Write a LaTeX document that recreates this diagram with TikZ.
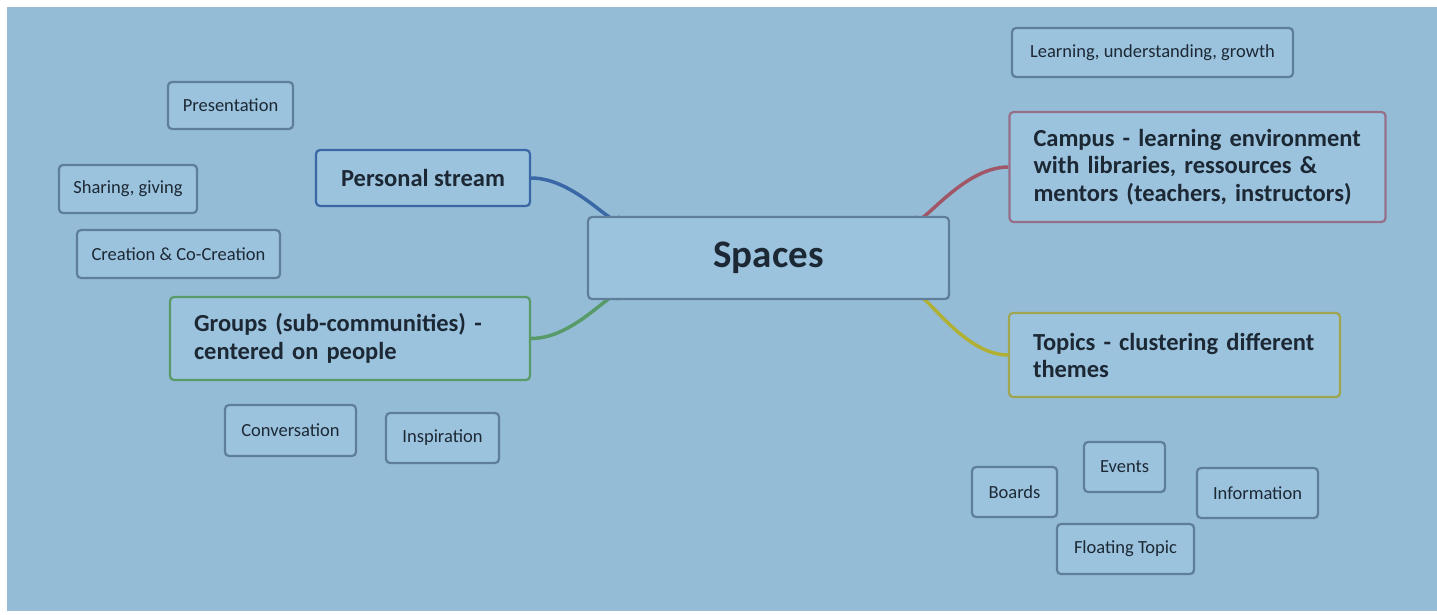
\documentclass[tikz,border=0pt]{standalone}
\usepackage{fontspec}
\setmainfont{Carlito}
\definecolor{bgc}{RGB}{148,188,214}
\definecolor{boxfill}{RGB}{156,195,222}
\definecolor{boxline}{RGB}{94,126,153}
\definecolor{txt}{RGB}{28,40,52}
\definecolor{cblue}{RGB}{58,104,166}
\definecolor{cgreen}{RGB}{88,154,104}
\definecolor{cred}{RGB}{160,88,104}
\definecolor{credline}{RGB}{150,112,136}
\definecolor{cyellow}{RGB}{176,176,52}
\definecolor{cyellowline}{RGB}{160,166,80}
\pgfdeclarelayer{bglayer}
\pgfdeclarelayer{linklayer}
\pgfsetlayers{bglayer,linklayer,main}
\tikzset{
  box/.style={draw=boxline, fill=boxfill, line width=2.2pt, rounded corners=4pt,
    text=txt, inner sep=0pt, font=\fontsize{18.5}{22}\selectfont, align=center},
  branch/.style={box, font=\bfseries\fontsize{24.5}{28}\selectfont},
  link/.style={line width=3.5pt}
}
\begin{document}
\begin{tikzpicture}[x=1pt,y=-1pt]
\useasboundingbox (0,0) rectangle (1437,614);
\begin{pgfonlayer}{bglayer}
\fill[white] (0,0) rectangle (1437,614);
\fill[bgc] (7,7) rectangle (1437,611);
\end{pgfonlayer}

% central
\node[box, font=\bfseries\fontsize{39}{42}\selectfont, minimum width=361pt, minimum height=82pt] (spaces) at (768.5,258) {Spaces};

% left side
\node[branch, draw=cblue, minimum width=214pt, minimum height=56pt] (personal) at (423,178) {Personal stream};
\node[branch, draw=cgreen, minimum width=360pt, minimum height=83pt, text width=312pt, align=left] (groups) at (350,338.5) {Groups (sub-communities) -\\centered on people};

\node[box, minimum width=125pt, minimum height=47pt] (presentation) at (230.5,105.5) {Presentation};
\node[box, minimum width=138pt, minimum height=48pt] (sharing) at (128,189) {Sharing, giving};
\node[box, minimum width=203pt, minimum height=48pt] (creation) at (178.5,254) {Creation \& Co-Creation};
\node[box, minimum width=131pt, minimum height=51pt] (conversation) at (290.5,430.5) {Conversation};
\node[box, minimum width=113pt, minimum height=50pt] (inspiration) at (442.5,438) {Inspiration};

% right side
\node[box, minimum width=281pt, minimum height=49pt] (learning) at (1152.5,52.5) {Learning, understanding, growth};
\node[branch, draw=credline, minimum width=376pt, minimum height=110pt, text width=328pt, align=left, font=\bfseries\fontsize{24.5}{27.5}\selectfont] (campus) at (1197.5,167) {Campus - learning environment\\with libraries, ressources \&\\mentors (teachers, instructors)};
\node[branch, draw=cyellowline, minimum width=331pt, minimum height=84pt, text width=283pt, align=left, font=\bfseries\fontsize{24.5}{27}\selectfont] (topics) at (1174.5,355) {Topics - clustering different\\themes};

\node[box, minimum width=81pt, minimum height=50pt] (events) at (1124.5,467) {Events};
\node[box, minimum width=85pt, minimum height=50pt] (boards) at (1014.5,492) {Boards};
\node[box, minimum width=121pt, minimum height=50pt] (information) at (1257.5,493) {Information};
\node[box, minimum width=137pt, minimum height=50pt] (floating) at (1125.5,549) {Floating Topic};

% connectors
\begin{pgfonlayer}{linklayer}
\draw[link, draw=cblue] (personal.east) .. controls +(48pt,0) and +(0,22) .. ([xshift=33pt]spaces.north west);
\draw[link, draw=cgreen] (groups.east) .. controls +(48pt,0) and +(0,-22) .. ([xshift=32pt]spaces.south west);
\draw[link, draw=cred] (campus.west) .. controls +(-50pt,0) and +(0,22) .. ([xshift=-35pt]spaces.north east);
\draw[link, draw=cyellow] (topics.west) .. controls +(-50pt,0) and +(0,-26) .. ([xshift=-35pt]spaces.south east);
\end{pgfonlayer}
\end{tikzpicture}
\end{document}
